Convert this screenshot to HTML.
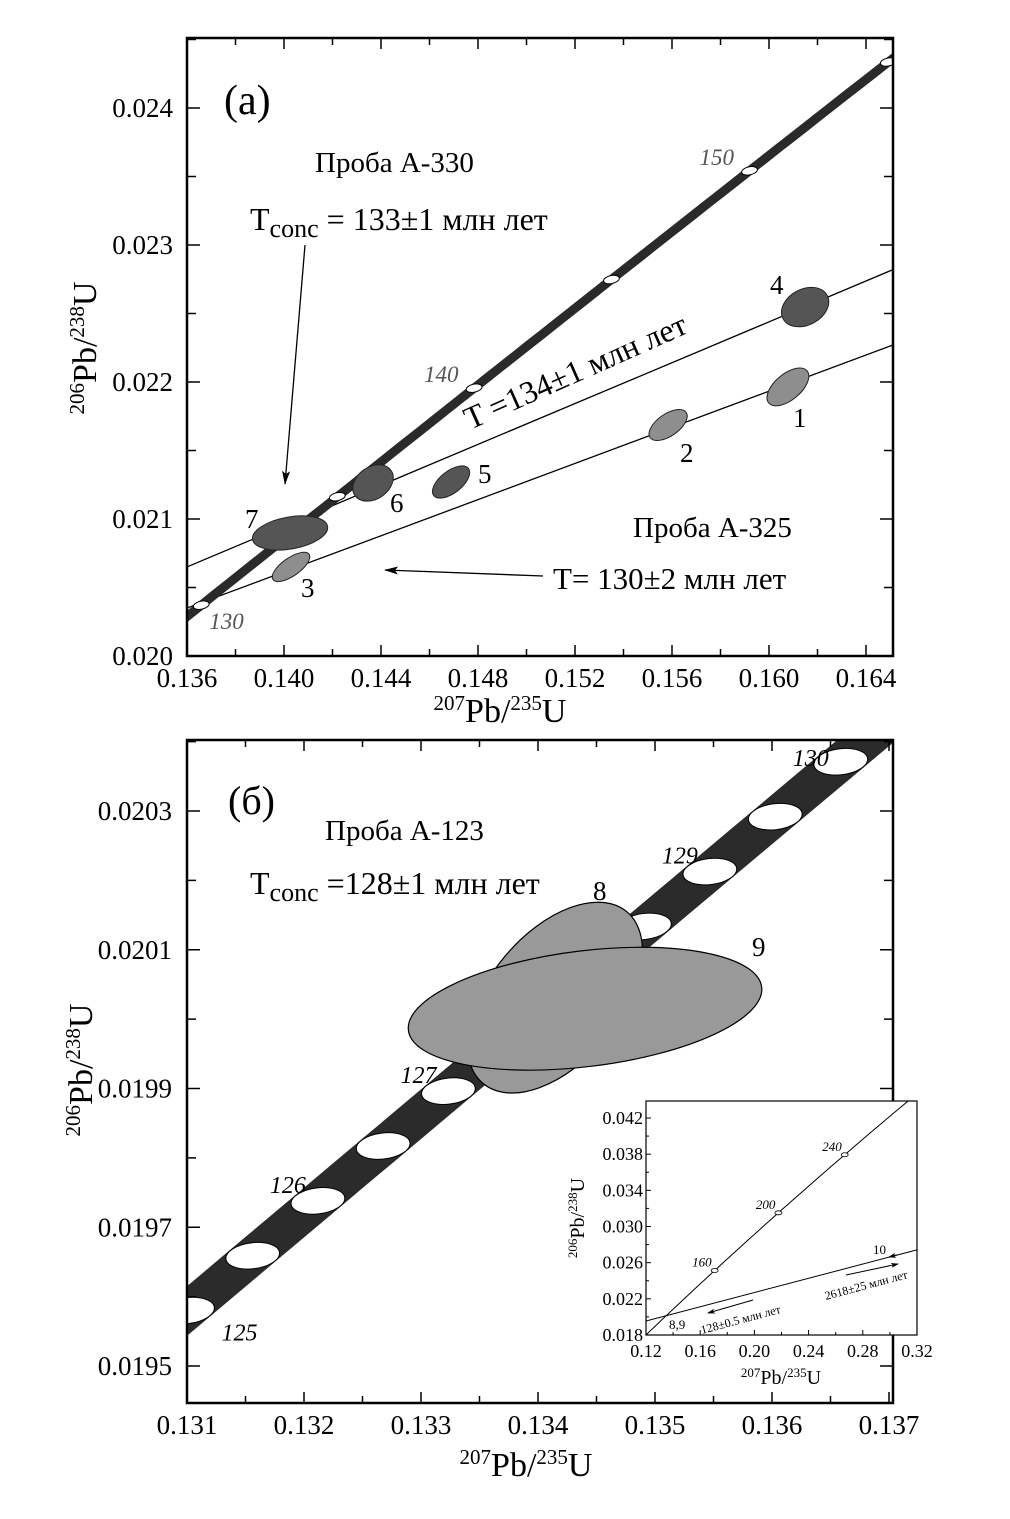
<!DOCTYPE html>
<html><head><meta charset="utf-8">
<style>
html,body{margin:0;padding:0;background:#fff;}
svg{display:block;font-family:"Liberation Serif",serif;}
</style></head>
<body>
<svg id="fig" width="1010" height="1519" viewBox="0 0 1010 1519" xmlns="http://www.w3.org/2000/svg">
<defs>
<clipPath id="clipA"><rect x="187" y="38" width="706" height="618"/></clipPath>
<clipPath id="clipB"><rect x="187" y="740" width="706" height="663"/></clipPath>
<clipPath id="clipI"><rect x="646" y="1101" width="271" height="234"/></clipPath>
</defs>
<g id="panelA"></g>
<g id="panelB"></g>
<g id="inset"></g>
</svg>
<script>
// ---------- data ----------
const L238 = 1.55125e-4, L235 = 9.8485e-4; // per Ma
// Panel (a)
const aXTicks = [0.136,0.140,0.144,0.148,0.152,0.156,0.160,0.164];
const aYTicks = [0.020,0.021,0.022,0.023,0.024];
const aXTickLabels = ["0.136","0.140","0.144","0.148","0.152","0.156","0.160","0.164"];
const aYTickLabels = ["0.020","0.021","0.022","0.023","0.024"];
const aMarkerAges = [130,135,140,145,150,155];
const aAgeLabels = [130,140,150];
const aSpotIds = ["7","3","6","5","2","1","4"];
const aSpotX = [0.14025,0.14029,0.14367,0.14689,0.15584,0.16078,0.16149];
const aSpotY = [0.020898,0.020650,0.021263,0.021270,0.021686,0.021964,0.022547];
const aSpotSx = [0.00157,0.000907,0.000907,0.000907,0.000907,0.00103,0.00103];
const aSpotSy = [0.000117,0.0000657,0.000117,0.0000803,0.0000803,0.0000949,0.000131];
const aSpotRot = [-10,-35,-35,-38,-35,-40,-28];
const aSpotDark = [1,0,1,1,0,0,1];
const aDiscUpper = [[0.136,0.02065],[0.16511,0.02282]];
const aDiscLower = [[0.136,0.02035],[0.16511,0.02227]];
// Panel (b)
const bXTicks = [0.131,0.132,0.133,0.134,0.135,0.136,0.137];
const bYTicks = [0.0195,0.0197,0.0199,0.0201,0.0203];
const bXTickLabels = ["0.131","0.132","0.133","0.134","0.135","0.136","0.137"];
const bYTickLabels = ["0.0195","0.0197","0.0199","0.0201","0.0203"];
const bMarkerAges = [125,125.5,126,126.5,127,127.5,128,128.5,129,129.5,130];
const bAgeLabels = [125,126,127,129,130];
const bSpotIds = ["8","9"];
const bSpotX = [0.134145,0.134402];
const bSpotY = [0.020031,0.020015];
const bSpotSx = [0.000957,0.001521];
const bSpotSy = [0.0000935,0.0000835];
const bSpotRot = [-50,-7];
// Inset
const iXTicks = [0.12,0.16,0.20,0.24,0.28,0.32];
const iYTicks = [0.018,0.022,0.026,0.030,0.034,0.038,0.042];
const iXTickLabels = ["0.12","0.16","0.20","0.24","0.28","0.32"];
const iYTickLabels = ["0.018","0.022","0.026","0.030","0.034","0.038","0.042"];
const iMarkerAges = [160,200,240];
const iDisc = [[0.12,0.01955],[0.32,0.02742]];

const NS="http://www.w3.org/2000/svg";
function mk(parent,tag,attrs,text){const e=document.createElementNS(NS,tag);for(const k in attrs)e.setAttribute(k,attrs[k]);if(text!==undefined)e.textContent=text;parent.appendChild(e);return e;}
function conc(t){return [Math.exp(L235*t)-1, Math.exp(L238*t)-1];}
function lin(d0,d1,r0,r1){return v=>r0+(v-d0)/(d1-d0)*(r1-r0);}

// ---------- Panel A ----------
(function(){
const g=document.getElementById('panelA');
const X=lin(0.136,0.164,187,866), Y=lin(0.020,0.024,656,108);
const kx=(866-187)/0.028, ky=(656-108)/0.004;
const c=mk(g,'g',{'clip-path':'url(#clipA)'});


[aDiscUpper,aDiscLower].forEach((d,i)=>{
 const l=mk(c,'line',{x1:X(d[0][0]),y1:Y(d[0][1]),x2:X(d[1][0]),y2:Y(d[1][1]),stroke:'#000','stroke-width':1.3});
 
 
});
let pts=[];for(let t=124;t<=160;t+=0.5){const p=conc(t);pts.push(X(p[0]).toFixed(1)+','+Y(p[1]).toFixed(1));}
const cc=mk(c,'polyline',{points:pts.join(' '),fill:'none',stroke:'#2a2a2a','stroke-width':9});


aSpotX.forEach((x,i)=>{
 const e=mk(c,'ellipse',{cx:X(x),cy:Y(aSpotY[i]),rx:aSpotSx[i]*kx,ry:aSpotSy[i]*ky,fill:aSpotDark[i]?'#555':'#8e8e8e',stroke:'#222','stroke-width':1,transform:`rotate(${aSpotRot[i]} ${X(x)} ${Y(aSpotY[i])})`});
 
 
});
aMarkerAges.forEach(t=>{const p=conc(t);
 const m=mk(c,'ellipse',{cx:X(p[0]),cy:Y(p[1]),rx:8,ry:4,fill:'#fff',stroke:'#000','stroke-width':1,transform:`rotate(-12 ${X(p[0])} ${Y(p[1])})`});
 
 
});
aAgeLabels.forEach(t=>{const p=conc(t);
 const off=t===130?[8,24]:[-50,-6];
 const tx=mk(g,'text',{x:X(p[0])+off[0],y:Y(p[1])+off[1],'font-size':23,'font-style':'italic',fill:'#555'},String(t));
 
 
});
const fr=mk(g,'rect',{x:187,y:38,width:706,height:618,fill:'none',stroke:'#000','stroke-width':2.5});


const tk=mk(g,'g',{stroke:'#000','stroke-width':1.5});


for(let i=0;i<15;i++){const v=0.136+i*0.002;const x=X(v);if(x>893)break;const L=i%2?7:11;
 mk(tk,'line',{x1:x,y1:656,x2:x,y2:656-L});mk(tk,'line',{x1:x,y1:38,x2:x,y2:38+L});}
for(let i=0;i<10;i++){const v=0.020+i*0.0005;const y=Y(v);if(y<38)break;const L=i%2?9:13;
 mk(tk,'line',{x1:187,y1:y,x2:187+L,y2:y});mk(tk,'line',{x1:893,y1:y,x2:893-L,y2:y});}
aXTicks.forEach((v,i)=>{const t=mk(g,'text',{x:X(v),y:687,'font-size':27,'text-anchor':'middle'},aXTickLabels[i]);
 });
aYTicks.forEach((v,i)=>{const t=mk(g,'text',{x:173,y:Y(v)+9,'font-size':27,'text-anchor':'end'},aYTickLabels[i]);
 });
})();

// ---------- Panel B ----------
(function(){
const g=document.getElementById('panelB');
const X=lin(0.131,0.137,187,889), Y=lin(0.0195,0.0203,1366,811);
const kx=(889-187)/0.006, ky=(1366-811)/0.0008;
const c=mk(g,'g',{'clip-path':'url(#clipB)'});


let pts=[];for(let t=124;t<=131;t+=0.25){const p=conc(t);pts.push(X(p[0]).toFixed(1)+','+Y(p[1]).toFixed(1));}
const cc=mk(c,'polyline',{points:pts.join(' '),fill:'none',stroke:'#2b2b2b','stroke-width':38});


bMarkerAges.forEach(t=>{const p=conc(t);
 const m=mk(c,'ellipse',{cx:X(p[0]),cy:Y(p[1]),rx:27,ry:13,fill:'#fff',stroke:'#000','stroke-width':1,transform:`rotate(-7 ${X(p[0])} ${Y(p[1])})`});
 
 
});
bSpotX.forEach((x,i)=>{
 const e=mk(c,'ellipse',{cx:X(x),cy:Y(bSpotY[i]),rx:bSpotSx[i]*kx,ry:bSpotSy[i]*ky,fill:'#999',stroke:'#000','stroke-width':1.2,transform:`rotate(${bSpotRot[i]} ${X(x)} ${Y(bSpotY[i])})`});
 
 
});
bAgeLabels.forEach(t=>{const p=conc(t);
 const off=t===125?[34,30]:(t===130?[-48,4]:[-48,-8]);
 const tx=mk(g,'text',{x:X(p[0])+off[0],y:Y(p[1])+off[1],'font-size':24,'font-style':'italic'},String(t));
 
 
});
const fr=mk(g,'rect',{x:187,y:740,width:706,height:663,fill:'none',stroke:'#000','stroke-width':2.5});


const tk=mk(g,'g',{stroke:'#000','stroke-width':1.5});


for(let i=0;i<14;i++){const v=0.131+i*0.0005;const x=X(v);if(x>893)break;const L=i%2?7:11;
 mk(tk,'line',{x1:x,y1:1403,x2:x,y2:1403-L});mk(tk,'line',{x1:x,y1:740,x2:x,y2:740+L});}
for(let i=-1;i<11;i++){const v=0.0195+i*0.0001;const y=Y(v);if(y<740||y>1403)continue;const L=(i%2)?9:13;
 mk(tk,'line',{x1:187,y1:y,x2:187+L,y2:y});mk(tk,'line',{x1:893,y1:y,x2:893-L,y2:y});}
bXTicks.forEach((v,i)=>{const t=mk(g,'text',{x:X(v),y:1434,'font-size':27,'text-anchor':'middle'},bXTickLabels[i]);
 });
bYTicks.forEach((v,i)=>{const t=mk(g,'text',{x:172,y:Y(v)+9,'font-size':27,'text-anchor':'end'},bYTickLabels[i]);
 });
})();

// ---------- Inset ----------
(function(){
const g=document.getElementById('inset');
const X=lin(0.12,0.32,646,917), Y=lin(0.018,0.042,1335,1118);
const bg=mk(g,'rect',{x:646,y:1101,width:271,height:234,fill:'#fff',stroke:'none'});


const c=mk(g,'g',{'clip-path':'url(#clipI)'});


let pts=[];for(let t=100;t<=300;t+=2){const p=conc(t);pts.push(X(p[0]).toFixed(1)+','+Y(p[1]).toFixed(1));}
const cc=mk(c,'polyline',{points:pts.join(' '),fill:'none',stroke:'#000','stroke-width':1});


const dl=mk(c,'line',{x1:X(iDisc[0][0]),y1:Y(iDisc[0][1]),x2:X(iDisc[1][0]),y2:Y(iDisc[1][1]),stroke:'#000','stroke-width':1});


iMarkerAges.forEach(t=>{const p=conc(t);
 const m=mk(c,'ellipse',{cx:X(p[0]),cy:Y(p[1]),rx:3.5,ry:2,fill:'#fff',stroke:'#000','stroke-width':0.8});
 
 
 const tx=mk(g,'text',{x:X(p[0])-3,y:Y(p[1])-4,'font-size':13,'font-style':'italic','text-anchor':'end'},String(t));
 
 
});
const fr=mk(g,'rect',{x:646,y:1101,width:271,height:234,fill:'none',stroke:'#000','stroke-width':1.2});


const tk=mk(g,'g',{stroke:'#000','stroke-width':1});


for(let i=0;i<=10;i++){const x=X(0.12+i*0.02);const L=i%2?3:5;mk(tk,'line',{x1:x,y1:1335,x2:x,y2:1335-L});}
for(let i=0;i<=12;i++){const y=Y(0.018+i*0.002);if(y<1101)break;const L=i%2?3:5;mk(tk,'line',{x1:646,y1:y,x2:646+L,y2:y});}
iXTicks.forEach((v,i)=>{const t=mk(g,'text',{x:X(v),y:1357,'font-size':18,'text-anchor':'middle'},iXTickLabels[i]);
 });
iYTicks.forEach((v,i)=>{const t=mk(g,'text',{x:643,y:Y(v)+6,'font-size':18,'text-anchor':'end'},iYTickLabels[i]);
 });
})();
</script>

<svg width="1010" height="1519" viewBox="0 0 1010 1519" style="position:absolute;left:0;top:0;font-family:'Liberation Serif',serif" xmlns="http://www.w3.org/2000/svg">
<defs><marker id="ar2" markerWidth="14" markerHeight="8" refX="13" refY="4" orient="auto" markerUnits="userSpaceOnUse"><path d="M0,0 L14,4 L0,8 L3,4 z" fill="#000"/></marker>
<marker id="ar3" markerWidth="8" markerHeight="5" refX="7" refY="2.5" orient="auto" markerUnits="userSpaceOnUse"><path d="M0,0 L8,2.5 L0,5 L2,2.5 z" fill="#000"/></marker></defs>
<!-- Panel A annotations -->
<text x="224" y="114" font-size="42">(a)</text>
<text x="315" y="172" font-size="29">Проба А-330</text>
<text x="250" y="230" font-size="32">T<tspan font-size="26" dy="7">conc</tspan><tspan dy="-7"> = 133±1 млн  лет</tspan></text>
<line x1="305" y1="245" x2="285" y2="484" stroke="#000" stroke-width="1.3" marker-end="url(#ar2)"/>
<text x="0" y="0" font-size="32" transform="translate(470 430) rotate(-24)">T =134±1 млн  лет</text>
<text x="633" y="537" font-size="29">Проба А-325</text>
<text x="553" y="589" font-size="31">T= 130±2 млн  лет</text>
<line x1="543" y1="576" x2="385" y2="570" stroke="#000" stroke-width="1.3" marker-end="url(#ar2)"/>
<g font-size="27">
<text x="770" y="294">4</text><text x="793" y="427">1</text><text x="680" y="462">2</text><text x="478" y="483">5</text><text x="390" y="512">6</text><text x="245" y="528">7</text><text x="301" y="597">3</text>
</g>
<text x="0" y="0" font-size="34" transform="translate(96 348) rotate(-90)" text-anchor="middle"><tspan font-size="21" dy="-12">206</tspan><tspan dy="12">Pb/</tspan><tspan font-size="21" dy="-12">238</tspan><tspan dy="12">U</tspan></text>
<text x="500" y="722" font-size="34" text-anchor="middle"><tspan font-size="21" dy="-12">207</tspan><tspan dy="12">Pb/</tspan><tspan font-size="21" dy="-12">235</tspan><tspan dy="12">U</tspan></text>
<!-- Panel B annotations -->
<text x="228" y="814" font-size="40">(б)</text>
<text x="325" y="840" font-size="29">Проба А-123</text>
<text x="250" y="894" font-size="32">T<tspan font-size="26" dy="7">conc</tspan><tspan dy="-7"> =128±1 млн  лет</tspan></text>
<text x="593" y="900" font-size="27">8</text>
<text x="752" y="956" font-size="27">9</text>
<text x="0" y="0" font-size="34" transform="translate(92 1070) rotate(-90)" text-anchor="middle"><tspan font-size="21" dy="-12">206</tspan><tspan dy="12">Pb/</tspan><tspan font-size="21" dy="-12">238</tspan><tspan dy="12">U</tspan></text>
<text x="526" y="1476" font-size="34" text-anchor="middle"><tspan font-size="21" dy="-12">207</tspan><tspan dy="12">Pb/</tspan><tspan font-size="21" dy="-12">235</tspan><tspan dy="12">U</tspan></text>
<!-- Inset annotations -->
<text x="0" y="0" font-size="20" transform="translate(584 1218) rotate(-90)" text-anchor="middle"><tspan font-size="13" dy="-7">206</tspan><tspan dy="7">Pb/</tspan><tspan font-size="13" dy="-7">238</tspan><tspan dy="7">U</tspan></text>
<text x="781" y="1384" font-size="20" text-anchor="middle"><tspan font-size="13" dy="-7">207</tspan><tspan dy="7">Pb/</tspan><tspan font-size="13" dy="-7">235</tspan><tspan dy="7">U</tspan></text>
<text x="669" y="1329" font-size="13">8,9</text>
<text x="873" y="1254" font-size="13">10</text>
<line x1="897" y1="1255" x2="889" y2="1257" stroke="#000" stroke-width="1" marker-end="url(#ar3)"/>
<line x1="753" y1="1300" x2="708" y2="1313" stroke="#000" stroke-width="1" marker-end="url(#ar3)"/>
<text x="0" y="0" font-size="12" transform="translate(702 1334) rotate(-15)">128±0.5 млн лет</text>
<line x1="846" y1="1275" x2="898" y2="1264" stroke="#000" stroke-width="1" marker-end="url(#ar3)"/>
<text x="0" y="0" font-size="12" transform="translate(826 1300) rotate(-15)">2618±25 млн лет</text>
</svg>
</body></html>
